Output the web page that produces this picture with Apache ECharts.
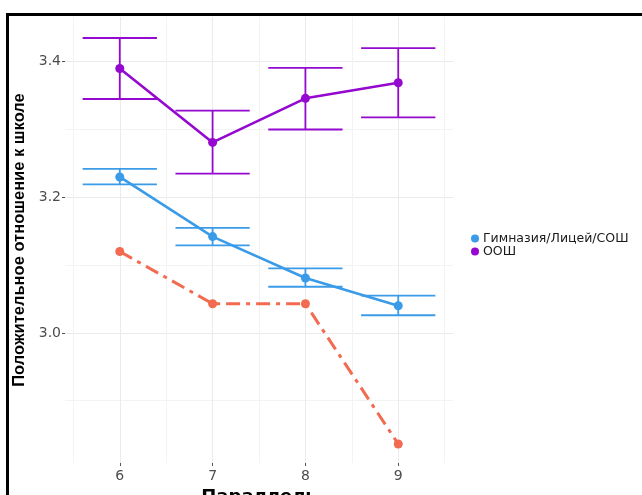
<!DOCTYPE html>
<html>
<head>
<meta charset="utf-8">
<script src="https://cdn.jsdelivr.net/npm/echarts@6/dist/echarts.min.js"></script>
<style>
html,body{margin:0;padding:0;background:#fff;}
#c{width:642px;height:495px;}
</style>
</head>
<body>
<div id="c"></div>
<script>
// ---- data ----
const grades = [6, 7, 8, 9];
const xTicks = [6, 7, 8, 9];
const xMinor = [5.5, 6.5, 7.5, 8.5, 9.5];
const yTicks = [3.0, 3.2, 3.4];
const yMinor = [2.9, 3.1, 3.3];

const gymName = 'Гимназия/Лицей/СОШ';
const gymMean = [3.230, 3.142, 3.081, 3.040];
const gymLow  = [3.219, 3.129, 3.068, 3.026];
const gymHigh = [3.242, 3.155, 3.095, 3.055];

const oosName = 'ООШ';
const oosMean = [3.390, 3.281, 3.346, 3.369];
const oosLow  = [3.345, 3.235, 3.300, 3.318];
const oosHigh = [3.435, 3.328, 3.391, 3.420];

const otherMean = [3.120, 3.043, 3.043, 2.836];

const xTitle = 'Параллель';
const yTitle = 'Положительное отношение к школе';

// ---- build ----
const cBlue = '#3A9BE9', cPurple = '#9408CF', cOrange = '#F26A4F';
const pairs = (vals) => grades.map((g, i) => [g, vals[i]]);
const errData = (lo, hi) => grades.map((g, i) => [g, lo[i], hi[i]]);
const capHalf = 0.4;

function errRender(color) {
  return function (params, api) {
    const x = api.value(0), lo = api.value(1), hi = api.value(2);
    const pLo = api.coord([x, lo]), pHi = api.coord([x, hi]);
    const l1 = api.coord([x - capHalf, lo]), r1 = api.coord([x + capHalf, lo]);
    const l2 = api.coord([x - capHalf, hi]), r2 = api.coord([x + capHalf, hi]);
    const st = {stroke: color, lineWidth: 1.8};
    return {type: 'group', children: [
      {type: 'line', shape: {x1: pLo[0], y1: pLo[1], x2: pHi[0], y2: pHi[1]}, style: st},
      {type: 'line', shape: {x1: l1[0], y1: l1[1], x2: r1[0], y2: r1[1]}, style: st},
      {type: 'line', shape: {x1: l2[0], y1: l2[1], x2: r2[0], y2: r2[1]}, style: st}
    ]};
  };
}

const xMin = 5.41, xMax = 9.59, yMin = 2.808, yMax = 3.466;
const labelStyle = {color: '#4D4D4D', fontSize: 14, fontFamily: 'DejaVu Sans'};

const option = {
  animation: false,
  backgroundColor: '#fff',
  grid: {left: 65, right: 189, top: 17, bottom: 32, outerBoundsMode: 'none', containLabel: false},
  legend: {
    data: [gymName, oosName],
    orient: 'vertical', left: 466, top: 227,
    icon: 'circle', itemWidth: 12, itemHeight: 8, itemGap: 0,
    textStyle: {fontSize: 12.5, color: '#1a1a1a', fontFamily: 'DejaVu Sans', padding: [0,0,0,-3]}
  },
  xAxis: [
    {type: 'value', min: xMin, max: xMax,
     name: xTitle, nameLocation: 'middle', nameGap: 20,
     nameTextStyle: {fontSize: 18, fontWeight: 'bold', color: '#000', fontFamily: 'DejaVu Sans'},
     axisLine: {show: false},
     axisTick: {show: true, length: 3, customValues: xTicks, lineStyle: {color: '#555'}},
     axisLabel: Object.assign({customValues: xTicks, margin: 6}, labelStyle),
     splitLine: {show: true, lineStyle: {color: '#EBEBEB', width: 1}}},
    {type: 'value', min: xMin, max: xMax, position: 'bottom',
     axisLine: {show: false},
     axisTick: {show: false, customValues: xMinor},
     axisLabel: {show: false},
     splitLine: {show: true, lineStyle: {color: '#F3F3F3', width: 1}}}
  ],
  yAxis: [
    {type: 'value', min: yMin, max: yMax,
     name: yTitle, nameLocation: 'middle', nameGap: 36,
     nameTextStyle: {fontSize: 16.5, fontWeight: 'bold', color: '#000', fontFamily: 'Liberation Sans'},
     axisLine: {show: false},
     axisTick: {show: true, length: 3, customValues: yTicks, lineStyle: {color: '#555'}},
     axisLabel: Object.assign({customValues: yTicks, margin: 4, formatter: v => v.toFixed(1)}, labelStyle),
     splitLine: {show: true, lineStyle: {color: '#EBEBEB', width: 1}}},
    {type: 'value', min: yMin, max: yMax, position: 'left',
     axisLine: {show: false},
     axisTick: {show: false, customValues: yMinor},
     axisLabel: {show: false},
     splitLine: {show: true, lineStyle: {color: '#F3F3F3', width: 1}}}
  ],
  series: [
    {name: 'err-oos', type: 'custom', renderItem: errRender(cPurple), data: errData(oosLow, oosHigh), z: 3},
    {name: 'err-gym', type: 'custom', renderItem: errRender(cBlue), data: errData(gymLow, gymHigh), z: 3},
    {name: 'other', type: 'line', data: pairs(otherMean), color: cOrange,
     symbol: 'circle', symbolSize: 9, lineStyle: {width: 3, type: [14, 6, 4, 6]}, z: 4},
    {name: gymName, type: 'line', data: pairs(gymMean), color: cBlue,
     symbol: 'circle', symbolSize: 9, lineStyle: {width: 2.6}, z: 4},
    {name: oosName, type: 'line', data: pairs(oosMean), color: cPurple,
     symbol: 'circle', symbolSize: 9, lineStyle: {width: 2.6}, z: 4}
  ],
  graphic: [
    {type: 'rect', shape: {x: 6, y: 13, width: 3, height: 482}, style: {fill: '#000'}, z: 100},
    {type: 'rect', shape: {x: 6, y: 13, width: 636, height: 3}, style: {fill: '#000'}, z: 100}
  ]
};

const chart = echarts.init(document.getElementById('c'), null, {renderer: 'canvas'});
chart.setOption(option);
</script>
</body>
</html>
